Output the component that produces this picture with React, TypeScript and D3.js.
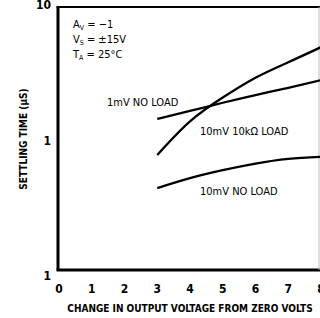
import React from 'react';
import * as d3 from 'd3';

// volts of output change
const volts = [3, 4, 5, 6, 7, 8];
// settling time (µs) for each curve
const oneMvNoLoad = [1.41, 1.62, 1.87, 2.14, 2.43, 2.78];
const tenMvLoad = [0.75, 1.35, 2.05, 2.9, 3.8, 4.95];
const tenMvNoLoad = [0.42, 0.5, 0.575, 0.645, 0.7, 0.725];

const xTicks = [0, 1, 2, 3, 4, 5, 6, 7, 8];
const yTicks = [0.1, 1, 10];
const yTickLabels = ['1', '1', '10'];

const W = 320;
const H = 318;
const font = "'DejaVu Sans', sans-serif";

const App = () => {
	const x = d3.scaleLinear().domain([0, 8]).range([59, 321]);
	const y = d3.scaleLog().domain([0.1, 10]).range([270, 7]);

	const line = d3
		.line<number>()
		.x((d, i) => x(volts[i]))
		.y(d => y(d))
		.curve(d3.curveNatural);

	const series = [oneMvNoLoad, tenMvLoad, tenMvNoLoad];
	const txt = { fontFamily: font, fontStretch: 'condensed' as const, fill: 'black' };

	return (
		<svg width={W} height={H} style={{ position: 'absolute', left: 0, top: 0, background: 'white' }}>
			{/* frame */}
			<line x1={x(0) - 1} x2={x(0) - 1} y1={y(10)} y2={y(0.1)} stroke='black' strokeWidth={3} />
			<line x1={x(0) - 2.5} x2={W} y1={y(0.1)} y2={y(0.1)} stroke='black' strokeWidth={3} />
			<line x1={x(0) - 2.5} x2={W} y1={y(10)} y2={y(10)} stroke='black' strokeWidth={2} />
			<line x1={319} x2={319} y1={y(10)} y2={y(0.1)} stroke='#bbb' strokeWidth={1} />

			{series.map((s, i) => (
				<path key={i} d={line(s) || ''} fill='none' stroke='black' strokeWidth={2.3} />
			))}

			{/* tick labels */}
			<g style={txt} fontSize={12} fontWeight='bold'>
				{xTicks.map(t => (
					<text key={t} x={x(t)} y={293} textAnchor='middle'>{t}</text>
				))}
				{yTicks.map((t, i) => (
					<text key={t} x={51} y={y(t) + (t === 0.1 ? 10 : t === 10 ? 2 : 6)} textAnchor='end'>{yTickLabels[i]}</text>
				))}
			</g>

			{/* axis titles */}
			<text x={190} y={312} textAnchor='middle' style={txt} fontSize={10} fontWeight='bold'>
				CHANGE IN OUTPUT VOLTAGE FROM ZERO VOLTS
			</text>
			<text transform='translate(27 139) rotate(-90)' textAnchor='middle' style={txt} fontSize={10} fontWeight='bold'>
				SETTLING TIME (µS)
			</text>

			{/* conditions */}
			<g style={txt} fontSize={11}>
				<text x={73} y={28}>A<tspan fontSize={7} dy={2}>V</tspan><tspan dy={-2}> = −1</tspan></text>
				<text x={73} y={43}>V<tspan fontSize={7} dy={2}>S</tspan><tspan dy={-2}> = ±15V</tspan></text>
				<text x={73} y={58}>T<tspan fontSize={7} dy={2}>A</tspan><tspan dy={-2}> = 25°C</tspan></text>
			</g>

			{/* curve labels */}
			<g style={txt} fontSize={11}>
				<text x={107} y={106}>1mV NO LOAD</text>
				<text x={200} y={135}>10mV 10kΩ LOAD</text>
				<text x={200} y={195}>10mV NO LOAD</text>
			</g>
		</svg>
	);
};

export default App;
